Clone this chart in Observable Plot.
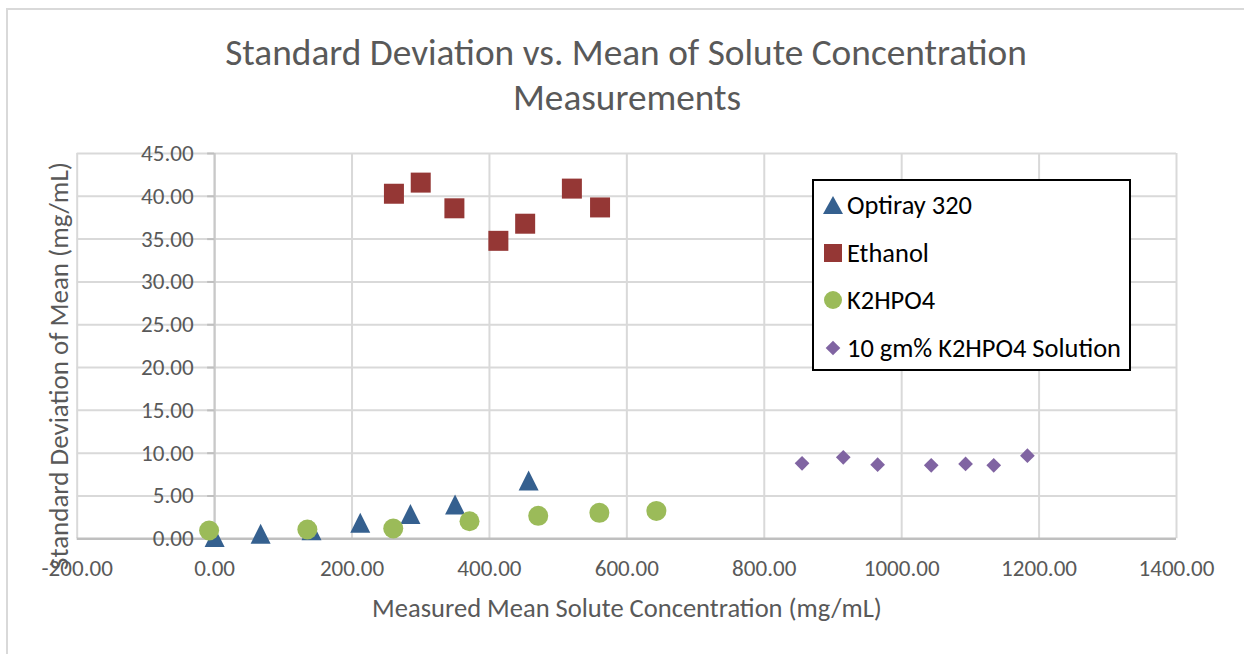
<!DOCTYPE html>
<html>
<head>
<meta charset="utf-8">
<script src="https://cdn.jsdelivr.net/npm/d3@7"></script>
<script src="https://cdn.jsdelivr.net/npm/@observablehq/plot@0.6"></script>
<style>
  html, body { margin: 0; padding: 0; background: #fff; }
  #chart { position: relative; width: 1244px; height: 654px; overflow: hidden; background: #fff; }
  #frame { position: absolute; left: 6px; top: 8px; width: 1400px; height: 800px;
           border-left: 2px solid #d9d9d9; border-top: 2px solid #d9d9d9; }
  .lbl { position: absolute; white-space: nowrap; color: #595959; line-height: 1;
         transform: translate(-50%, -50%); }
  #plot { position: absolute; left: 0; top: 130px; }
  #legend { position: absolute; left: 812px; top: 179px; width: 315px; height: 188px;
            border: 2px solid #000; background: #fff; }
  .item { position: absolute; left: 0; height: 30px; display: flex; align-items: center; white-space: nowrap; color: #000; }
  .item svg { margin-left: 9px; margin-right: 4px; }
</style>
</head>
<body>
<div id="chart">
  <div id="frame"></div>
  <div id="plot"></div>
  <div class="lbl" id="t1"></div>
  <div class="lbl" id="t2"></div>
  <div class="lbl" id="xt"></div>
  <div class="lbl" id="yt"></div>
  <div id="legend"></div>
</div>
<script>
// ---- data ----
const seriesNames = ["Optiray 320", "Ethanol", "K2HPO4", "10 gm% K2HPO4 Solution"];
const optirayX = [0, 67, 141, 212, 285, 350, 457];
const optirayY = [0.2, 0.6, 1.0, 1.87, 2.9, 4.0, 6.8];
const ethanolX = [261, 300, 349, 413, 452, 520, 561];
const ethanolY = [40.3, 41.6, 38.6, 34.8, 36.8, 40.9, 38.7];
const k2hpo4X = [-8, 135, 260, 371, 471, 560, 643];
const k2hpo4Y = [0.97, 1.08, 1.2, 2.05, 2.68, 3.03, 3.26];
const solutionX = [855, 915, 965, 1043, 1093, 1134, 1183];
const solutionY = [8.81, 9.51, 8.66, 8.58, 8.74, 8.58, 9.71];
const xTicks = [-200, 0, 200, 400, 600, 800, 1000, 1200, 1400];
const yTicks = [0, 5, 10, 15, 20, 25, 30, 35, 40, 45];
const titleLines = ["Standard Deviation vs. Mean of Solute Concentration", "Measurements"];
const xTitle = "Measured Mean Solute Concentration (mg/mL)";
const yTitle = "Standard Deviation of Mean (mg/mL)";
const colors = ["#35608f", "#953735", "#9bbb59", "#8064a2"];

// ---- fonts ----
const FAM = "Carlito, Lato, 'Open Sans', sans-serif";
const cv = document.createElement("canvas").getContext("2d");
function fit(text, target, weight) {
  cv.font = `${weight || 400} 100px ${FAM}`;
  return 100 * target / cv.measureText(text).width;
}
function place(id, text, cx, cy, target, weight, rotate) {
  const el = document.getElementById(id);
  el.textContent = text;
  el.style.fontFamily = FAM;
  el.style.fontWeight = weight || 400;
  el.style.fontSize = fit(text, target, weight) + "px";
  el.style.left = cx + "px";
  el.style.top = cy + "px";
  if (rotate) el.style.transform = "translate(-50%, -50%) rotate(-90deg)";
}
place("t1", titleLines[0], 626, 53, 802, 300);
place("t2", titleLines[1], 627, 98, 228, 300);
place("xt", xTitle, 627, 608, 510, 400);
place("yt", yTitle, 59, 366, 408, 400, true);

const tickFont = fit("1400.00", 76, 400);
const legendFont = fit(seriesNames[3], 274, 400);

// ---- custom symbols (fit a square box like Excel markers) ----
const triSym = { draw(ctx, size) { const h = Math.sqrt(size) / 2; ctx.moveTo(0, -h); ctx.lineTo(h, h); ctx.lineTo(-h, h); ctx.closePath(); } };
const diaSym = { draw(ctx, size) { const h = Math.sqrt(size) / 2; ctx.moveTo(0, -h); ctx.lineTo(h, 0); ctx.lineTo(0, h); ctx.lineTo(-h, 0); ctx.closePath(); } };

const rows = [];
optirayX.forEach((x, i) => rows.push({s: seriesNames[0], x, y: optirayY[i]}));
ethanolX.forEach((x, i) => rows.push({s: seriesNames[1], x, y: ethanolY[i]}));
k2hpo4X.forEach((x, i) => rows.push({s: seriesNames[2], x, y: k2hpo4Y[i]}));
solutionX.forEach((x, i) => rows.push({s: seriesNames[3], x, y: solutionY[i]}));
const bySeries = name => rows.filter(d => d.s === name);

const SQ = Math.sqrt(Math.PI);
const plot = Plot.plot({
  width: 1244,
  height: 524,
  marginTop: 23,
  marginBottom: 115.7,
  marginLeft: 76.7,
  marginRight: 68,
  style: { fontFamily: FAM, background: "transparent", overflow: "visible" },
  x: { domain: [-200, 1400], axis: null },
  y: { domain: [0, 45], axis: null },
  marks: [
    Plot.ruleX(xTicks, { stroke: "#d9d9d9", strokeWidth: 2 }),
    Plot.ruleY(yTicks.filter(d => d > 0), { stroke: "#d9d9d9", strokeWidth: 2 }),
    Plot.ruleX([0], { stroke: "#c8c8c8", strokeWidth: 2 }),
    Plot.ruleY([0], { stroke: "#bfbfbf", strokeWidth: 2.5 }),
    Plot.ruleY(yTicks, { y: d => d, x1: 0, x2: 0, insetLeft: -7, stroke: "#bfbfbf", strokeWidth: 2 }),
    Plot.text(yTicks, { x: 0, y: d => d, text: d => d.toFixed(2), textAnchor: "end", dx: -21,
      fontSize: tickFont, fill: "#595959" }),
    Plot.text(xTicks, { x: d => d, frameAnchor: "bottom", dy: 30, lineAnchor: "middle",
      text: d => d.toFixed(2), fontSize: tickFont, fill: "#595959" }),
    Plot.dot(bySeries(seriesNames[0]), { x: "x", y: "y", symbol: () => triSym, r: 20 / SQ, fill: colors[0] }),
    Plot.dot(bySeries(seriesNames[1]), { x: "x", y: "y", symbol: "square", r: 20 / SQ, fill: colors[1] }),
    Plot.dot(bySeries(seriesNames[2]), { x: "x", y: "y", symbol: "circle", r: 10, fill: colors[2] }),
    Plot.dot(bySeries(seriesNames[3]), { x: "x", y: "y", symbol: () => diaSym, r: 14.7 / SQ, fill: colors[3] })
  ]
});
document.getElementById("plot").appendChild(plot);

// ---- legend ----
const legendSyms = [
  `<polygon points="0,-9 10,9 -10,9" fill="${colors[0]}"/>`,
  `<rect x="-9" y="-9" width="18" height="18" fill="${colors[1]}"/>`,
  `<circle r="9" fill="${colors[2]}"/>`,
  `<polygon points="0,-7.3 7.3,0 0,7.3 -7.3,0" fill="${colors[3]}"/>`
];
const legendRowsY = [24, 71.5, 119, 166.5];
const lg = document.getElementById("legend");
seriesNames.forEach((name, i) => {
  const it = document.createElement("div");
  it.className = "item";
  it.style.top = (legendRowsY[i] - 15) + "px";
  it.style.fontFamily = FAM;
  it.style.fontSize = legendFont + "px";
  it.innerHTML = `<svg width="20" height="20" viewBox="-10 -10 20 20">${legendSyms[i]}</svg><span>${name}</span>`;
  lg.appendChild(it);
});
</script>
</body>
</html>
